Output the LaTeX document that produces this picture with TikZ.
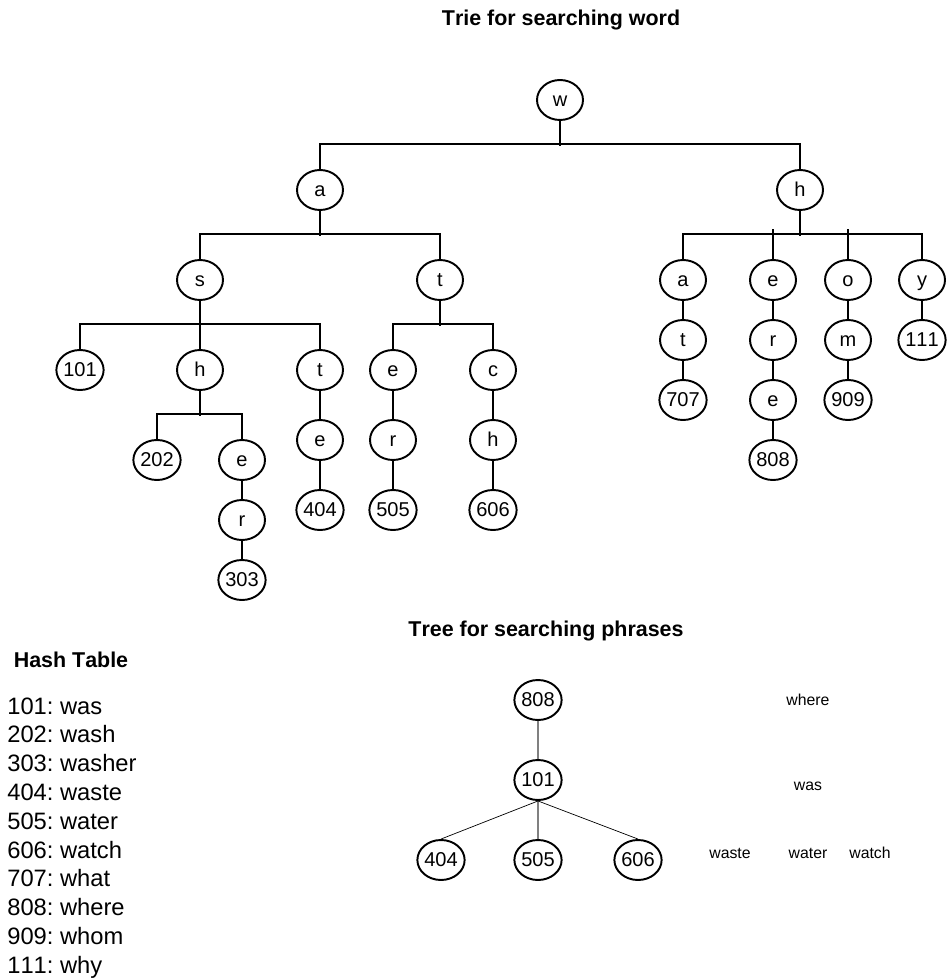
\documentclass[tikz,border=0pt]{standalone}
\usepackage{fontspec}
\setmainfont[Kerning=Off]{Liberation Sans}
\usetikzlibrary{shapes.geometric}

\begin{document}
\frenchspacing
\begin{tikzpicture}[x=0.02cm,y=-0.02cm,
    letter/.style={draw,ellipse,line width=1.1pt,minimum width=0.92cm,minimum height=0.8cm,inner sep=0pt,text height=0.72em,text depth=0pt,font=\fontsize{11.4}{13}\selectfont},
    heading/.style={anchor=base,font=\fontsize{12.2}{14}\selectfont\bfseries},
    hashline/.style={anchor=base west,inner sep=0pt,font=\fontsize{13.5}{16}\selectfont},
    wordlabel/.style={font=\fontsize{9}{11}\selectfont},
    edge/.style={line width=1.1pt}]
    \useasboundingbox (0,0) rectangle (946,979);

    % trie
    \node[heading] (trietitle) at (561,26) {Trie for searching word};
    \node[letter] (w) at (560,100) {w};
    \node[letter] (a1) at (320,190) {a};
    \node[letter] (h1) at (800,190) {h};
    \node[letter] (s2) at (200,280) {s};
    \node[letter] (t2) at (440,280) {t};
    \node[letter] (n101) at (80,370) {101};
    \node[letter] (h3) at (200,370) {h};
    \node[letter] (t3) at (320,370) {t};
    \node[letter] (e3) at (393,370) {e};
    \node[letter] (c3) at (493,370) {c};
    \node[letter] (n202) at (157,460) {202};
    \node[letter] (e4) at (242,460) {e};
    \node[letter] (r5) at (242,520) {r};
    \node[letter] (n303) at (242,580) {303};
    \node[letter] (te) at (320,440) {e};
    \node[letter] (n404) at (320,510) {404};
    \node[letter] (er) at (393,440) {r};
    \node[letter] (n505) at (393,510) {505};
    \node[letter] (ch) at (493,440) {h};
    \node[letter] (n606) at (493,510) {606};

    \node[letter] (ha) at (683,280) {a};
    \node[letter] (he) at (773,280) {e};
    \node[letter] (ho) at (848,280) {o};
    \node[letter] (hy) at (922,280) {y};
    \node[letter] (hat) at (683,340) {t};
    \node[letter] (n707) at (683,400) {707};
    \node[letter] (her) at (773,340) {r};
    \node[letter] (here) at (773,400) {e};
    \node[letter] (n808) at (773,460) {808};
    \node[letter] (hom) at (848,340) {m};
    \node[letter] (n909) at (848,400) {909};
    \node[letter] (n111) at (922,340) {111};

    \draw[edge] (w.south) -- ++(0,25);
    \draw[edge] (a1.north) -- ++(0,-25) -| (h1.north);
    \draw[edge] (a1.south) -- ++(0,25);
    \draw[edge] (s2.north) -- ++(0,-25) -| (t2.north);
    \draw[edge] (s2.south) -- (h3.north);
    \draw[edge] (n101.north) -- ++(0,-25) -| (t3.north);
    \draw[edge] (t2.south) -- ++(0,25);
    \draw[edge] (e3.north) -- ++(0,-25) -| (c3.north);
    \draw[edge] (h3.south) -- ++(0,25);
    \draw[edge] (n202.north) -- ++(0,-25) -| (e4.north);
    \draw[edge] (e4) -- (r5);
    \draw[edge] (r5) -- (n303);
    \draw[edge] (t3) -- (te);
    \draw[edge] (te) -- (n404);
    \draw[edge] (e3) -- (er);
    \draw[edge] (er) -- (n505);
    \draw[edge] (c3) -- (ch);
    \draw[edge] (ch) -- (n606);

    \draw[edge] (h1.south) -- ++(0,25);
    \draw[edge] (ha.north) -- ++(0,-25) -| (hy.north);
    \draw[edge] (he.north) -- ++(0,-30);
    \draw[edge] (ho.north) -- ++(0,-30);
    \draw[edge] (ha) -- (hat);
    \draw[edge] (hat) -- (n707);
    \draw[edge] (he) -- (her);
    \draw[edge] (her) -- (here);
    \draw[edge] (here) -- (n808);
    \draw[edge] (ho) -- (hom);
    \draw[edge] (hom) -- (n909);
    \draw[edge] (hy) -- (n111);

    % hash table
    \node[heading] (hashtitle) at (71,667) {Hash Table};
    \foreach \txt [count=\i] in {101: was,202: wash,303: washer,404: waste,505: water,606: watch,707: what,808: where,909: whom,111: why}
      \node[hashline] (hash\i) at (7,{714+28.8*(\i-1)}) {\txt};

    % phrase tree
    \node[heading] (phrasetitle) at (546,636) {Tree for searching phrases};
    \node[letter] (p808) at (538,700) {808};
    \node[letter] (p101) at (538,780) {101};
    \node[letter] (p404) at (441,860) {404};
    \node[letter] (p505) at (538,860) {505};
    \node[letter] (p606) at (638,860) {606};
    \draw[edge,gray] (p808) -- (p101);
    \draw[edge,gray] (p101) -- (p505);
    \draw (p101.south) -- (p404.north);
    \draw (p101.south) -- (p606.north);

    \node[wordlabel] (wwhere) at (808,700) {where};
    \node[wordlabel] (wwas) at (808,786) {was};
    \node[wordlabel] (wwaste) at (730,853) {waste};
    \node[wordlabel] (wwater) at (808,853) {water};
    \node[wordlabel] (wwatch) at (870,853) {watch};
\end{tikzpicture}
\end{document}
